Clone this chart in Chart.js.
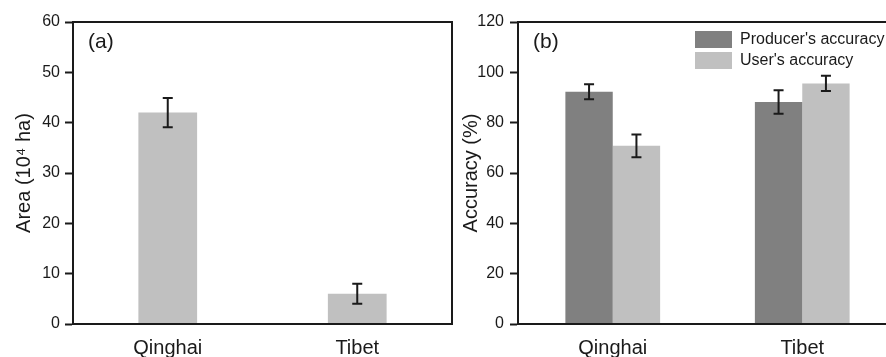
<!DOCTYPE html>
<html>
<head>
<meta charset="utf-8">
<script src="https://cdn.jsdelivr.net/npm/chart.js@4/dist/chart.umd.min.js"></script>
<style>
  html, body { margin: 0; padding: 0; background: #fff; overflow: hidden; }
  #wrap { position: relative; width: 886px; height: 357px; overflow: hidden; }
  #panelA { position: absolute; left: 0; top: 0; }
  #panelB { position: absolute; left: 453px; top: 0; }
</style>
</head>
<body>
<div id="wrap">
  <canvas id="panelA" width="453" height="357"></canvas>
  <canvas id="panelB" width="450" height="357"></canvas>
</div>
<script>
const categories = ['Qinghai', 'Tibet']

// (a) area estimates
const areaValues = [42.0, 6.0]
const areaErrors = [2.9, 2.0]
const areaMin = 0
const areaMax = 60
const areaStep = 10

// (b) accuracy
const producerAcc = [92.3, 88.2]
const producerErr = [3.0, 4.7]
const userAcc = [70.8, 95.6]
const userErr = [4.5, 3.0]
const accMin = 0
const accMax = 120
const accStep = 20

const seriesNames = ["Producer's accuracy", "User's accuracy"]

const ink = '#1a1a1a'
const darkGray = '#808080'
const lightGray = '#c0c0c0'

Chart.defaults.font.family = "'Liberation Sans', Arial, sans-serif"
Chart.defaults.color = ink

const errorBars = {
  id: 'errorBars',
  afterDatasetsDraw(chart) {
    const ctx = chart.ctx
    const yScale = chart.scales.y
    ctx.save()
    ctx.strokeStyle = ink
    ctx.lineWidth = 2
    chart.data.datasets.forEach((ds, i) => {
      const meta = chart.getDatasetMeta(i)
      meta.data.forEach((bar, j) => {
        const v = ds.data[j]
        const e = ds.errors[j]
        const top = yScale.getPixelForValue(v + e)
        const bot = yScale.getPixelForValue(v - e)
        const half = 5
        ctx.beginPath()
        ctx.moveTo(bar.x, top)
        ctx.lineTo(bar.x, bot)
        ctx.moveTo(bar.x - half, top)
        ctx.lineTo(bar.x + half, top)
        ctx.moveTo(bar.x - half, bot)
        ctx.lineTo(bar.x + half, bot)
        ctx.stroke()
      })
    })
    ctx.restore()
  },
}

const frameBox = {
  id: 'frameBox',
  afterDraw(chart) {
    const { left, top, right, bottom } = chart.chartArea
    const ctx = chart.ctx
    ctx.save()
    ctx.strokeStyle = ink
    ctx.lineWidth = 2
    ctx.strokeRect(left, top, right - left, bottom - top)
    ctx.restore()
  },
}

const panelLabel = {
  id: 'panelLabel',
  afterDraw(chart, args, opts) {
    if (!opts.text) return
    const ctx = chart.ctx
    ctx.save()
    ctx.fillStyle = ink
    ctx.font = "21px 'Liberation Sans', Arial, sans-serif"
    ctx.textBaseline = 'middle'
    ctx.fillText(opts.text, chart.chartArea.left + 15, chart.chartArea.top + 20)
    ctx.restore()
  },
}

// move legend into the upper right of the plot
const legendInside = {
  id: 'legendInside',
  afterLayout(chart, args, opts) {
    const lg = chart.legend
    if (!lg || !opts.enabled) return
    const pad = lg.options.labels.padding
    lg.left = chart.chartArea.left + opts.dx - pad
    lg.right = lg.left + 220
    lg.top = chart.chartArea.top + opts.dy - pad
    lg.bottom = lg.top + 120
  },
}

const yAxis = (min, max, step, title, axisWidth, titlePad, tickPad) => ({
  min: min,
  max: max,
  ticks: { stepSize: step, font: { size: 16 }, color: ink, padding: tickPad },
  grid: { display: true, drawOnChartArea: false, tickLength: 8, tickColor: ink, tickWidth: 2 },
  border: { display: true, color: ink, width: 2 },
  title: { display: true, text: title, font: { size: 20 }, color: ink, padding: { top: titlePad, bottom: 0 } },
  afterFit(scale) {
    scale.width = axisWidth
  },
})

const xAxis = () => ({
  grid: { display: false, drawTicks: false },
  border: { display: true, color: ink, width: 2 },
  ticks: { font: { size: 20 }, color: ink, padding: 12 },
  afterFit(scale) {
    scale.height = 33
  },
})

new Chart(document.getElementById('panelA'), {
  type: 'bar',
  data: {
    labels: categories,
    datasets: [
      {
        label: 'Area',
        data: areaValues,
        errors: areaErrors,
        backgroundColor: lightGray,
        borderWidth: 0,
        categoryPercentage: 0.31,
        barPercentage: 1,
      },
    ],
  },
  options: {
    responsive: false,
    animation: false,
    layout: { padding: { left: 0, top: 22, right: 1, bottom: 0 } },
    plugins: {
      legend: { display: false },
      tooltip: { enabled: false },
      panelLabel: { text: '(a)' },
    },
    scales: {
      x: xAxis(),
      y: yAxis(areaMin, areaMax, areaStep, 'Area (10⁴ ha)', 73, 12, 5),
    },
  },
  plugins: [errorBars, frameBox, panelLabel],
})

new Chart(document.getElementById('panelB'), {
  type: 'bar',
  data: {
    labels: categories,
    datasets: [
      {
        label: seriesNames[0],
        data: producerAcc,
        errors: producerErr,
        backgroundColor: darkGray,
        borderWidth: 0,
        categoryPercentage: 0.5,
        barPercentage: 1,
      },
      {
        label: seriesNames[1],
        data: userAcc,
        errors: userErr,
        backgroundColor: lightGray,
        borderWidth: 0,
        categoryPercentage: 0.5,
        barPercentage: 1,
      },
    ],
  },
  options: {
    responsive: false,
    animation: false,
    layout: { padding: { left: 0, top: 22, right: 6, bottom: 0 } },
    plugins: {
      legend: {
        display: true,
        position: 'chartArea',
        align: 'start',
        labels: { boxWidth: 37, boxHeight: 17, padding: 4, font: { size: 16 }, color: ink },
      },
      tooltip: { enabled: false },
      panelLabel: { text: '(b)' },
      legendInside: { enabled: true, dx: 177, dy: 9 },
    },
    scales: {
      x: xAxis(),
      y: yAxis(accMin, accMax, accStep, 'Accuracy (%)', 65, 6, 6),
    },
  },
  plugins: [errorBars, frameBox, panelLabel, legendInside],
})
</script>
</body>
</html>
